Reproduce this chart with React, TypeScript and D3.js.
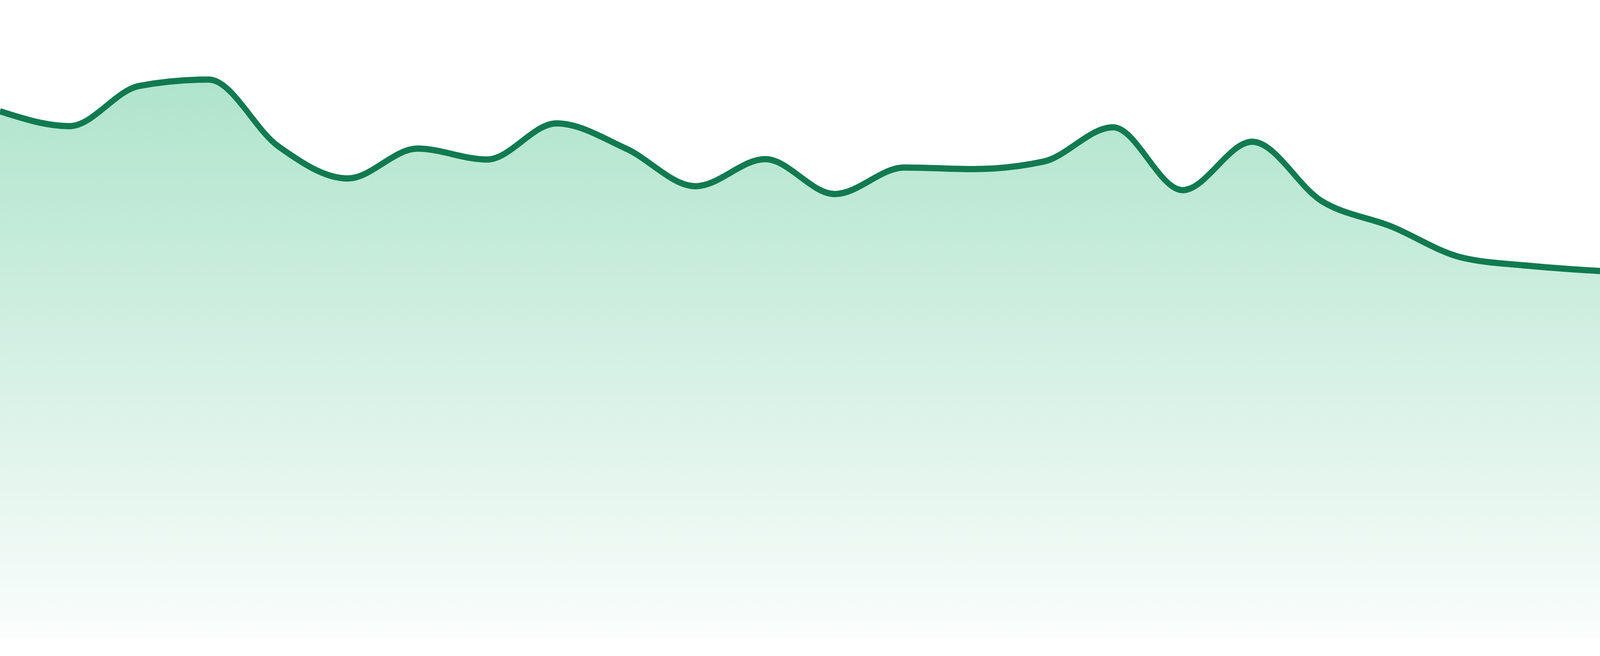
import React from "react";
import * as d3 from "d3";

const categories: string[] = [
  "1", "2", "3", "4", "5", "6", "7", "8", "9", "10", "11", "12",
  "13", "14", "15", "16", "17", "18", "19", "20", "21", "22", "23", "24",
];
const values: number[] = [
  94.06, 91.41, 98.6, 99.74, 87.81, 82.05, 87.39, 85.44, 91.9, 87.39, 80.66, 85.51,
  79.26, 84.01, 83.73, 85.06, 91.2, 79.96, 88.62, 78.0, 73.46, 67.95, 66.41, 65.5,
];
const yDomain: [number, number] = [0, 100];

const W = 4800;
const H = 1680;
const LINE_COLOR = "#117a50";

export default function App() {
  const x = d3
    .scalePoint<string>()
    .domain(categories)
    .range([0, W]);
  const y = d3.scaleLinear().domain(yDomain).range([1632, 200]);

  const data = categories.map((c, i) => ({ c, v: values[i] }));

  const area = d3
    .area<{ c: string; v: number }>()
    .x((d) => x(d.c) as number)
    .y0(y(0))
    .y1((d) => y(d.v))
    .curve(d3.curveMonotoneX);

  const line = d3
    .line<{ c: string; v: number }>()
    .x((d) => x(d.c) as number)
    .y((d) => y(d.v))
    .curve(d3.curveMonotoneX);

  return (
    <svg
      viewBox={`0 0 ${W} ${H}`}
      preserveAspectRatio="none"
      style={{
        position: "fixed",
        left: 0,
        top: 0,
        width: "100vw",
        height: "100vh",
        background: "#fff",
        display: "block",
      }}
    >
      <defs>
        <linearGradient id="areaGrad" x1="0" y1="0" x2="0" y2="1">
          <stop offset="0%" stopColor="#afe4cc" />
          <stop offset="100%" stopColor="#fafdfc" />
        </linearGradient>
      </defs>
      <path d={area(data) || ""} fill="url(#areaGrad)" />
      <path d={line(data) || ""} fill="none" stroke={LINE_COLOR} strokeWidth={16} />
    </svg>
  );
}
